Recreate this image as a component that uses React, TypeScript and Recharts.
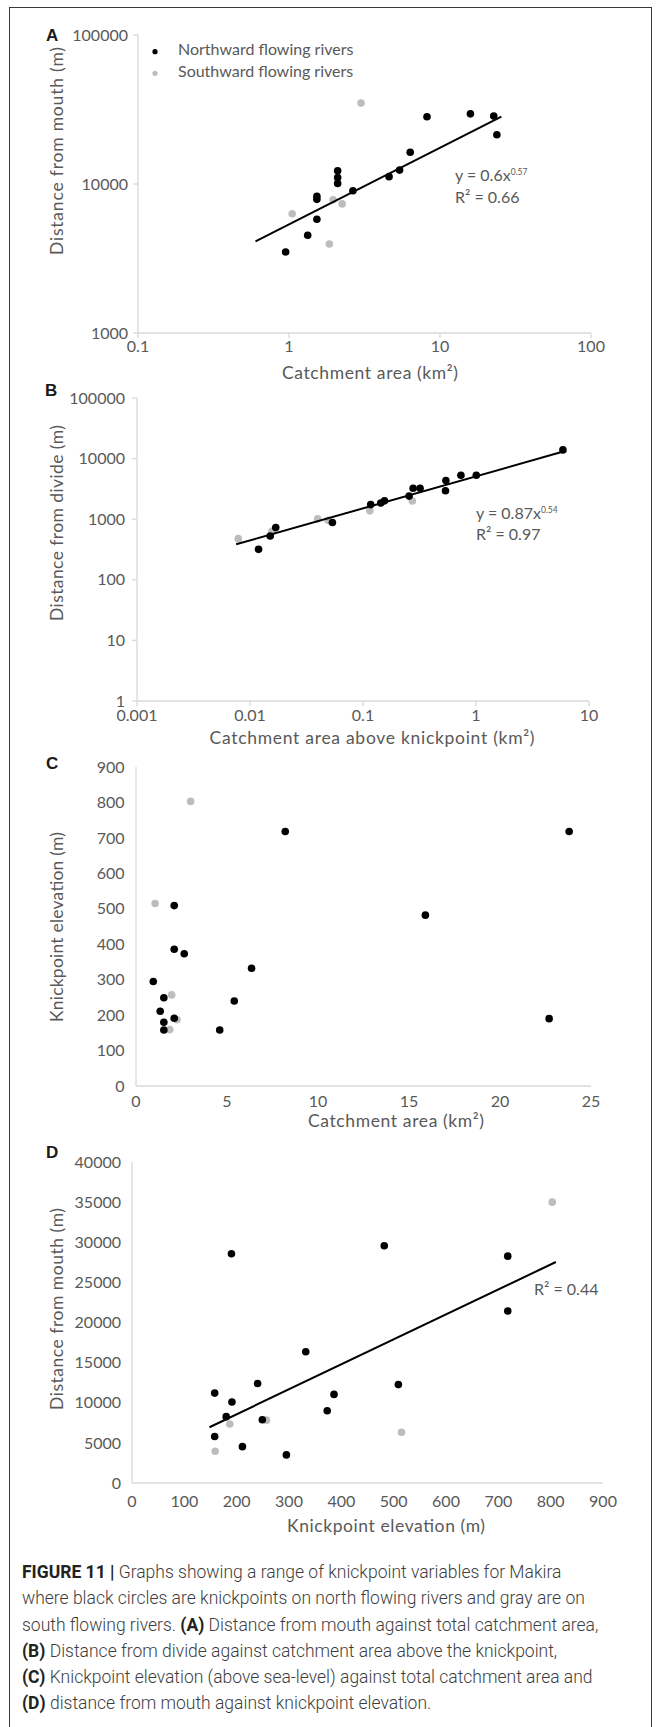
import React from "react";
import { ScatterChart, Scatter, XAxis, YAxis, Legend } from "recharts";

const seriesNames = ["Northward flowing rivers", "Southward flowing rivers"];

// knickpoints on north flowing rivers: total catchment area (km²), elevation (m), distance from mouth (m)
const northArea = [0.95, 1.33, 1.53, 1.53, 1.53, 2.1, 2.1, 2.1, 2.65, 4.6, 5.4, 6.35, 8.2, 15.9, 22.7, 23.8];
const northElevation = [295, 211, 158, 249, 180, 191, 386, 509, 373, 158, 240, 332, 718, 482, 190, 718];
const northDistMouth = [3500, 4530, 5800, 7890, 8270, 10090, 11040, 12260, 9000, 11200, 12400, 16350, 28270, 29560, 28560, 21430];

// knickpoints on south flowing rivers
const southArea = [3.0, 1.05, 1.96, 2.25, 1.85];
const southElevation = [803, 515, 257, 187, 159];
const southDistMouth = [35000, 6320, 7830, 7350, 3960];

// catchment area above knickpoint (km²) and distance from divide (m)
const northAreaAbove = [0.0119, 0.0151, 0.0169, 0.0536, 0.117, 0.1435, 0.155, 0.256, 0.2777, 0.32, 0.537, 0.5415, 0.7355, 1.006, 5.88];
const northDistDivide = [318, 529, 727, 880, 1740, 1850, 2010, 2404, 3240, 3240, 2943, 4340, 5300, 5300, 13920];
const southAreaAbove = [0.00787, 0.0156, 0.0397, 0.0491, 0.115, 0.2735];
const southDistDivide = [478, 633, 1013, 962, 1373, 2000];

// trendline end points
const trendAx = [0.6, 25.5];
const trendAy = [4120, 28340];
const trendBx = [0.00754, 5.93];
const trendBy = [385, 13060];
const trendDx = [148, 810];
const trendDy = [6950, 27540];

// tick labels
const ticksAx = [0.1, 1, 10, 100];
const ticksAy = [1000, 10000, 100000];
const ticksBx = [0.001, 0.01, 0.1, 1, 10];
const ticksBy = [1, 10, 100, 1000, 10000, 100000];
const ticksCx = [0, 5, 10, 15, 20, 25];
const ticksCy = [0, 100, 200, 300, 400, 500, 600, 700, 800, 900];
const ticksDx = [0, 100, 200, 300, 400, 500, 600, 700, 800, 900];
const ticksDy = [0, 5000, 10000, 15000, 20000, 25000, 30000, 35000, 40000];

const BLACK = "#000000";
const GRAY = "#bdbdbd";
const TEXT = "#595959";
const AXIS = "#d9d9d9";
const FONT = "Lato, 'Open Sans', sans-serif";

type Pt = { x: number; y: number };
const zip = (xs: number[], ys: number[]): Pt[] => xs.map((x, i) => ({ x, y: ys[i] }));

const dot = (fill: string) => (props: any) => (
  <circle cx={props.cx} cy={props.cy} r={3.8} fill={fill} />
);
const noDot = () => <g />;

type AxisSpec = {
  log: boolean;
  domain: [number, number];
  ticks: number[];
  tickSize: number;
  tickMargin: number;
};

type PanelProps = {
  top: number;
  height: number;
  marginTop: number;
  marginRight: number;
  yWidth: number;
  x: AxisSpec;
  y: AxisSpec;
  north: Pt[];
  south: Pt[];
  trend?: Pt[];
  legend?: boolean;
};

function LegendBox() {
  return (
    <svg width={240} height={50}>
      <circle cx={10} cy={15.7} r={2.6} fill={BLACK} />
      <text x={33} y={19.3} fontFamily={FONT} fontSize={16} fill={TEXT}>
        {seriesNames[0]}
      </text>
      <circle cx={10} cy={37.3} r={2.6} fill={GRAY} />
      <text x={33} y={41.3} fontFamily={FONT} fontSize={16} fill={TEXT}>
        {seriesNames[1]}
      </text>
    </svg>
  );
}

function Panel({ top, height, marginTop, marginRight, yWidth, x, y, north, south, trend, legend }: PanelProps) {
  const tick = { fill: TEXT, fontSize: 16, fontFamily: FONT };
  return (
    <div style={{ position: "absolute", left: 0, top }}>
      <ScatterChart
        width={657}
        height={height}
        margin={{ top: marginTop, right: marginRight, bottom: 0, left: 0 }}
      >
        <XAxis
          dataKey="x"
          type="number"
          scale={x.log ? "log" : "linear"}
          domain={x.domain}
          ticks={x.ticks}
          interval={0}
          allowDataOverflow
          height={30}
          tick={tick}
          axisLine={{ stroke: AXIS, strokeWidth: 1.3 }}
          tickLine={x.log ? { stroke: AXIS, strokeWidth: 1.3 } : false}
          tickSize={x.tickSize}
          tickMargin={x.tickMargin}
        />
        <YAxis
          dataKey="y"
          type="number"
          scale={y.log ? "log" : "linear"}
          domain={y.domain}
          ticks={y.ticks}
          interval={0}
          allowDataOverflow
          width={yWidth}
          tick={tick}
          axisLine={{ stroke: AXIS, strokeWidth: 1.3 }}
          tickLine={y.log ? { stroke: AXIS, strokeWidth: 1.3 } : false}
          tickSize={y.tickSize}
          tickMargin={y.tickMargin}
        />
        {legend && (
          <Legend
            layout="vertical"
            align="center"
            verticalAlign="middle"
            wrapperStyle={{ left: 145, top: 36, width: 240, height: 50 }}
            content={() => <LegendBox />}
          />
        )}
        <Scatter name={seriesNames[1]} data={south} shape={dot(GRAY)} isAnimationActive={false} />
        <Scatter name={seriesNames[0]} data={north} shape={dot(BLACK)} isAnimationActive={false} />
        {trend && (
          <Scatter
            data={trend}
            line={{ stroke: BLACK, strokeWidth: 2 }}
            shape={noDot}
            legendType="none"
            isAnimationActive={false}
          />
        )}
      </ScatterChart>
    </div>
  );
}

const xTitles = [
  { text: "Catchment area (km²)", x: 370, y: 379, len: 176 },
  { text: "Catchment area above knickpoint (km²)", x: 372, y: 744, len: 325 },
  { text: "Catchment area (km²)", x: 396, y: 1127, len: 176 },
  { text: "Knickpoint elevation (m)", x: 386, y: 1532, len: 198 },
];

const yTitles = [
  { text: "Distance from mouth (m)", x: 63, y: 151, len: 208 },
  { text: "Distance from divide (m)", x: 63, y: 523, len: 196 },
  { text: "Knickpoint elevation (m)", x: 63, y: 927, len: 190 },
  { text: "Distance from mouth (m)", x: 63, y: 1309, len: 202 },
];

const panelLetters = [
  { text: "A", x: 46, y: 41 },
  { text: "B", x: 45, y: 396 },
  { text: "C", x: 46, y: 769 },
  { text: "D", x: 46, y: 1158 },
];

function Annotations() {
  return (
    <svg
      width={657}
      height={1727}
      style={{ position: "absolute", left: 0, top: 0, pointerEvents: "none" }}
    >
      {panelLetters.map((p) => (
        <text key={p.text} x={p.x} y={p.y} fontFamily="'Liberation Sans', Arial, sans-serif" fontWeight="bold" fontSize={17} fill="#1a1a1a">
          {p.text}
        </text>
      ))}
      {xTitles.map((t, i) => (
        <text key={`xt${i}`} x={t.x} y={t.y} textAnchor="middle" fontFamily={FONT} fontSize={17.5} fill={TEXT} textLength={t.len} lengthAdjust="spacing">
          {t.text}
        </text>
      ))}
      {yTitles.map((t, i) => (
        <text key={`yt${i}`} transform={`translate(${t.x},${t.y}) rotate(-90)`} textAnchor="middle" fontFamily={FONT} fontSize={17.5} fill={TEXT} textLength={t.len} lengthAdjust="spacing">
          {t.text}
        </text>
      ))}
      <g fontFamily={FONT} fontSize={16} fill={TEXT}>
        <text x={455} y={180.7}>
          y = 0.6x<tspan dy={-6} fontSize={8.5}>0.57</tspan>
        </text>
        <text x={455} y={202.7}>R² = 0.66</text>
        <text x={476} y={519.3}>
          y = 0.87x<tspan dy={-6} fontSize={8.5}>0.54</tspan>
        </text>
        <text x={476} y={540}>R² = 0.97</text>
        <text x={534} y={1295}>R² = 0.44</text>
      </g>
    </svg>
  );
}

function Caption() {
  const bold = { color: "#222", fontWeight: 700 };
  return (
    <div
      style={{
        position: "absolute",
        left: 22,
        top: 1559,
        fontFamily: "Roboto, 'Liberation Sans', sans-serif",
        fontSize: 17.5,
        fontWeight: 300,
        lineHeight: "26.3px",
        color: "#3d3d3d",
        whiteSpace: "nowrap",
      }}
    >
      <span style={bold}>FIGURE 11 |</span> Graphs showing a range of knickpoint variables for Makira
      <br />
      where black circles are knickpoints on north flowing rivers and gray are on
      <br />
      south flowing rivers. <span style={bold}>(A)</span> Distance from mouth against total catchment area,
      <br />
      <span style={bold}>(B)</span> Distance from divide against catchment area above the knickpoint,
      <br />
      <span style={bold}>(C)</span> Knickpoint elevation (above sea-level) against total catchment area and
      <br />
      <span style={bold}>(D)</span> distance from mouth against knickpoint elevation.
    </div>
  );
}

export default function App() {
  return (
    <div style={{ position: "relative", width: 657, height: 1727, background: "#fff", overflow: "hidden" }}>
      <style>{"body{margin:0}"}</style>
      <div
        style={{
          position: "absolute",
          left: 9,
          top: 7,
          width: 643,
          height: 1760,
          border: "1.5px solid #3a3a3a",
          boxSizing: "border-box",
        }}
      />
      <Panel
        top={0}
        height={363}
        marginTop={35}
        marginRight={66}
        yWidth={138}
        x={{ log: true, domain: [0.1, 100], ticks: ticksAx, tickSize: 5, tickMargin: 3 }}
        y={{ log: true, domain: [1000, 100000], ticks: ticksAy, tickSize: 5, tickMargin: 5 }}
        north={zip(northArea, northDistMouth)}
        south={zip(southArea, southDistMouth)}
        trend={zip(trendAx, trendAy)}
        legend
      />
      <Panel
        top={360}
        height={371}
        marginTop={38}
        marginRight={68}
        yWidth={137}
        x={{ log: true, domain: [0.001, 10], ticks: ticksBx, tickSize: 5, tickMargin: 3.5 }}
        y={{ log: true, domain: [1, 100000], ticks: ticksBy, tickSize: 5, tickMargin: 7 }}
        north={zip(northAreaAbove, northDistDivide)}
        south={zip(southAreaAbove, southDistDivide)}
        trend={zip(trendBx, trendBy)}
      />
      <Panel
        top={740}
        height={376}
        marginTop={27}
        marginRight={66}
        yWidth={136}
        x={{ log: false, domain: [0, 25], ticks: ticksCx, tickSize: 0, tickMargin: 10 }}
        y={{ log: false, domain: [0, 900], ticks: ticksCy, tickSize: 0, tickMargin: 11.5 }}
        north={zip(northArea, northElevation)}
        south={zip(southArea, southElevation)}
      />
      <Panel
        top={1130}
        height={383}
        marginTop={32}
        marginRight={54}
        yWidth={132}
        x={{ log: false, domain: [0, 900], ticks: ticksDx, tickSize: 0, tickMargin: 12.7 }}
        y={{ log: false, domain: [0, 40000], ticks: ticksDy, tickSize: 0, tickMargin: 11 }}
        north={zip(northElevation, northDistMouth)}
        south={zip(southElevation, southDistMouth)}
        trend={zip(trendDx, trendDy)}
      />
      <Annotations />
      <Caption />
    </div>
  );
}
